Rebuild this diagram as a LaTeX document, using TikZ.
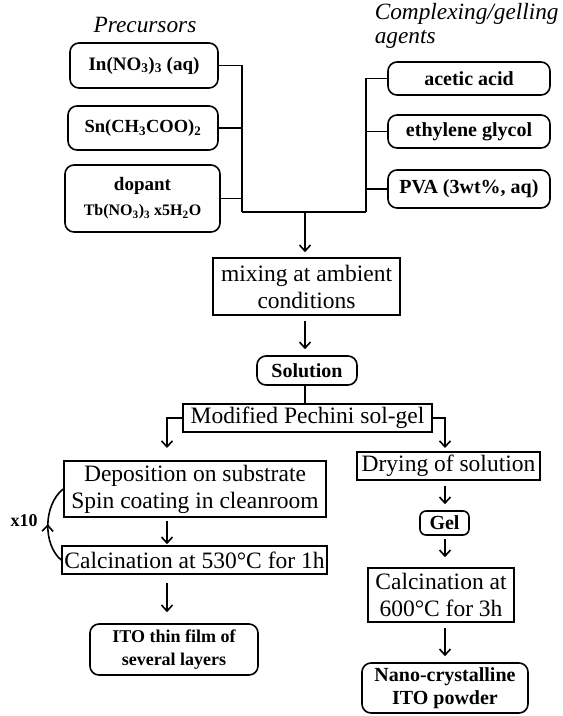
\documentclass[tikz,border=0pt]{standalone}
\usepackage{fontspec}
\setmainfont{Liberation Serif}
\usetikzlibrary{arrows.meta,decorations.markings}
\begin{document}
\begin{tikzpicture}[x=1pt,y=-1pt,
  line width=1.6pt,
  box/.style={draw, line width=1.6pt, inner sep=0pt, align=center, minimum width=#1},
  rbox/.style={box=#1, rounded corners=9pt},
  reg/.style={font=\fontsize{23.5}{27}\selectfont},
  bld/.style={font=\fontsize{20}{23}\selectfont\bfseries},
  arr/.style={-{Straight Barb[length=6pt,width=11pt,line width=1.6pt]}},
  lbl/.style={font=\fontsize{23.3}{24}\selectfont\itshape, inner sep=0pt}]
\useasboundingbox (0,0) rectangle (563,716);
% titles
\node[lbl] (prec) at (145,25) {Precursors};
\node[lbl, align=left, anchor=north west] (comp) at (374,3) {Complexing/gelling\\agents};
% precursors
\node[rbox=148, minimum height=45pt, bld, font=\fontsize{19}{23}\selectfont\bfseries] (in) at (144,65.5) {In(NO\textsubscript{3})\textsubscript{3} (aq)};
\node[rbox=150, minimum height=44pt, bld, font=\fontsize{18.5}{23}\selectfont\bfseries] (sn) at (143,128) {Sn(CH\textsubscript{3}COO)\textsubscript{2}};
\node[rbox=155, minimum height=67pt, font=\fontsize{16}{25}\selectfont\bfseries, align=center] (dop) at (142.5,198.5) {{\fontsize{19}{22}\selectfont dopant}\\Tb(NO\textsubscript{3})\textsubscript{3} x5H\textsubscript{2}O};
% agents
\node[rbox=162, minimum height=33pt, bld] (ace) at (469,78.5) {acetic acid};
\node[rbox=162, minimum height=33pt, bld] (eg) at (469,131.5) {ethylene glycol};
\node[rbox=162, minimum height=38pt, bld] (pva) at (469,189) {PVA (3wt\%, aq)};
% main
\node[box=187, minimum height=57pt, reg] (mix) at (306.5,286.5) {mixing at ambient\\conditions};
\node[rbox=100, minimum height=29pt, bld] (sol) at (307,370.5) {Solution};
\node[box=249, minimum height=28pt, reg] (mod) at (307.5,418) {Modified Pechini sol-gel};
% left branch
\node[box=262, minimum height=56pt, reg] (dep) at (195,489) {Deposition on substrate\\Spin coating in cleanroom};
\node[box=265, minimum height=28pt, reg] (c1) at (194.5,560) {Calcination at 530°C for 1h};
\node[rbox=168, minimum height=51pt, bld, font=\fontsize{18}{23}\selectfont\bfseries] (ito) at (174,649.5) {ITO thin film of\\several layers};
\node[font=\fontsize{18}{20}\selectfont\bfseries, inner sep=0pt] (x10) at (24,521) {x10};
% right branch
\node[box=183, minimum height=28pt, reg] (dry) at (448.5,466) {Drying of solution};
\node[rbox=49, minimum height=24pt, bld, rounded corners=6pt] (gel) at (444.5,523) {Gel};
\node[box=146, minimum height=54pt, reg] (c2) at (441,595) {Calcination at\\600°C for 3h};
\node[rbox=166, minimum height=50pt, bld] (nano) at (445,688) {Nano-crystalline\\ITO powder};
% junctions
\coordinate (jl) at (242,212);
\coordinate (jr) at (366,212);
\coordinate (jm) at (305,212);
\coordinate (dl) at (167,448);
\coordinate (dr) at (445,448);
\draw (in.east) -| (jl);
\draw (sn.east) -- (sn.east -| jl);
\draw (dop.east) -- (dop.east -| jl);
\draw (jl) -- (jr);
\draw (ace.west) -| (jr);
\draw (eg.west) -- (eg.west -| jr);
\draw (pva.west) -- (pva.west -| jr);
\draw[arr, shorten >=5pt] (jm) -- (jm |- mix.north);
\draw[arr, shorten <=5pt, shorten >=6pt] (mix.south -| jm) -- (sol.north -| jm);
\draw (sol.south -| jm) -- (mod.north -| jm);
\draw[arr] (mod.west) -| (dl);
\draw[arr] (mod.east) -| (dr);
\draw[arr, shorten <=3pt, shorten >=1pt] (dep.south -| dl) -- (c1.north -| dl);
\draw[arr, shorten <=8pt, shorten >=11pt] (c1.south -| dl) -- (ito.north -| dl);
\draw[arr, shorten <=5pt, shorten >=6pt] (dry.south -| dr) -- (gel.north -| dr);
\draw[arr, shorten <=3pt, shorten >=10pt] (gel.south -| dr) -- (c2.north -| dr);
\draw[arr, shorten <=5pt, shorten >=6pt] (c2.south -| dr) -- (nano.north -| dr);
% loop
\draw[postaction={decorate}, decoration={markings, mark=at position 0.5 with {\arrow{Straight Barb[length=6pt,width=11pt,line width=1.6pt]}}}]
  (c1.west) .. controls (43,545) and (43,505) .. (dep.west);
\end{tikzpicture}
\end{document}
